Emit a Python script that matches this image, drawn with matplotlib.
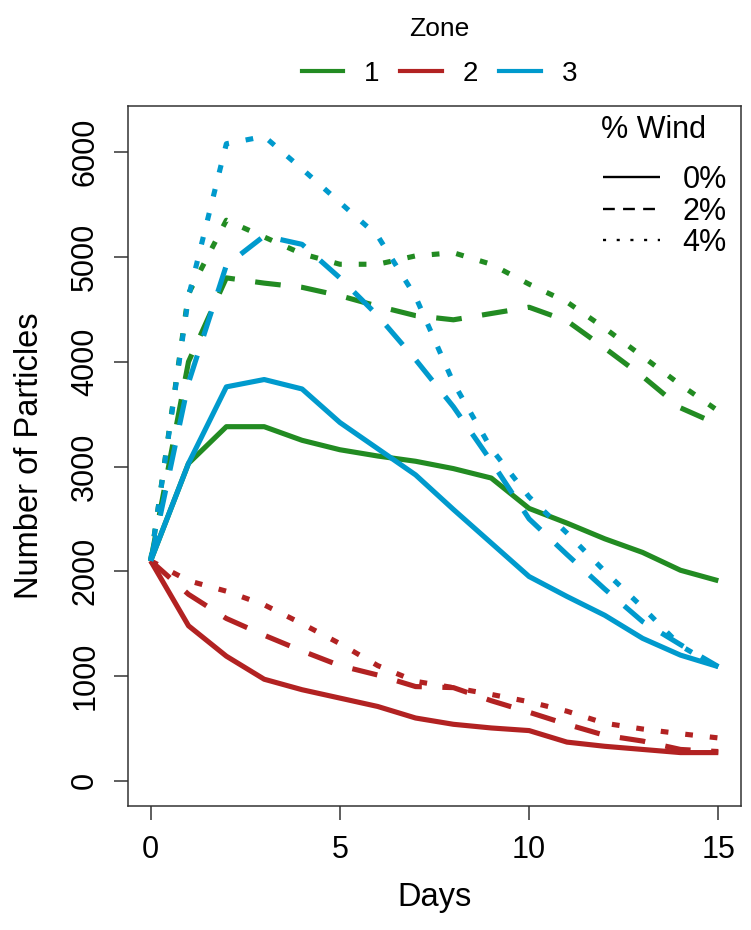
import matplotlib
matplotlib.use("Agg")
import matplotlib.pyplot as plt
from matplotlib.lines import Line2D

plt.rcParams["font.family"] = ["Liberation Sans", "DejaVu Sans"]

days = list(range(16))

# zone 1 (green)
zone1_0 = [2100, 3030, 3380, 3380, 3250, 3160, 3100, 3050, 2980, 2890, 2600, 2460, 2310, 2180, 2010, 1910]
zone1_2 = [2100, 4000, 4800, 4750, 4710, 4630, 4530, 4440, 4400, 4460, 4520, 4390, 4130, 3860, 3560, 3400]
zone1_4 = [2100, 4650, 5350, 5190, 5030, 4930, 4930, 5010, 5040, 4930, 4740, 4570, 4320, 4050, 3780, 3530]
# zone 2 (red)
zone2_0 = [2100, 1480, 1190, 970, 870, 790, 710, 600, 540, 505, 480, 370, 330, 300, 270, 270]
zone2_2 = [2100, 1780, 1550, 1390, 1240, 1100, 1010, 900, 890, 765, 655, 540, 435, 380, 300, 280]
zone2_4 = [2100, 1910, 1810, 1680, 1500, 1310, 1100, 950, 890, 825, 755, 665, 550, 495, 450, 410]
# zone 3 (blue)
zone3_0 = [2100, 3030, 3760, 3830, 3740, 3420, 3170, 2920, 2590, 2270, 1950, 1760, 1580, 1360, 1200, 1090]
zone3_2 = [2100, 3800, 4920, 5200, 5120, 4800, 4440, 4020, 3570, 3050, 2500, 2160, 1830, 1520, 1300, 1090]
zone3_4 = [2100, 4620, 6080, 6150, 5840, 5520, 5200, 4620, 3800, 3170, 2710, 2365, 2000, 1655, 1290, 1080]

zones = ["1", "2", "3"]
wind = ["0%", "2%", "4%"]
colors = ["#228B22", "#B22222", "#009ACD"]
series = [[zone1_0, zone1_2, zone1_4],
          [zone2_0, zone2_2, zone2_4],
          [zone3_0, zone3_2, zone3_4]]

LW = 3.7
styles = [(0, ()), (0, (5.0, 4.0)), (0, (1.5, 3.3))]

fig = plt.figure(figsize=(7.51, 9.30), dpi=100)
ax = fig.add_axes([0.1704, 0.1333, 0.8163, 0.7527])

for zi, zone_series in enumerate(series):
    for wi, vals in enumerate(zone_series):
        ax.plot(days, vals, color=colors[zi], lw=LW, linestyle=styles[wi],
                solid_joinstyle="round", solid_capstyle="round")

ax.set_xlim(-0.6, 15.6)
ax.set_ylim(-240, 6440)
ax.set_xticks([0, 5, 10, 15])
ax.set_yticks(range(0, 6001, 1000))
ax.tick_params(axis="both", direction="out", length=10, width=1.1, labelsize=22, color="#333333")
ax.tick_params(axis="x", pad=11)
ax.tick_params(axis="y", pad=10)
for lab in ax.get_yticklabels():
    lab.set_rotation(90)
    lab.set_va("center")
for sp in ax.spines.values():
    sp.set_linewidth(1.1)
    sp.set_color("#333333")

ax.set_xlabel("Days", fontsize=23.5, labelpad=12)
ax.set_ylabel("Number of Particles", fontsize=23.5, labelpad=18)

# zone legend above the plot
zone_handles = [Line2D([], [], color=c, lw=3) for c in colors]
fig.legend(zone_handles, zones, title="Zone", loc="upper center",
           bbox_to_anchor=(0.585, 1.0), ncol=3, frameon=False,
           fontsize=20, title_fontsize=19, handlelength=1.5,
           handletextpad=0.75, columnspacing=0.75, borderpad=0.1,
           labelspacing=0.72)

# wind legend inside
fig.text(601 / 751, 1 - 130 / 930, "% Wind", fontsize=22, ha="left", va="center")
wind_handles = [Line2D([], [], color="black", lw=1.7, linestyle=(0, ())),
                Line2D([], [], color="black", lw=1.7, linestyle=(0, (5, 3.5))),
                Line2D([], [], color="black", lw=1.7, linestyle=(0, (1.3, 4.5)))]
fig.legend(wind_handles, wind, loc="upper right",
           bbox_to_anchor=(727 / 751, 1 - 165 / 930), frameon=False, fontsize=22,
           handlelength=1.85, handletextpad=0.75, labelspacing=0.05,
           borderpad=0, borderaxespad=0)

fig.savefig("out.png", dpi=100)
